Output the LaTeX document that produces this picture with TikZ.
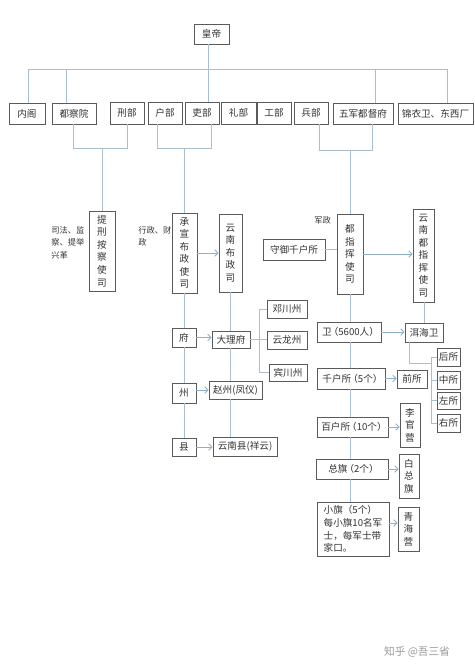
\documentclass[tikz,border=0pt]{standalone}
\usepackage{fontspec}
\setmainfont{Noto Sans CJK SC}
\usetikzlibrary{arrows.meta,calc}
\definecolor{lnc}{HTML}{A9BFD0}
\definecolor{arc}{HTML}{8FB0CC}
\definecolor{bdc}{HTML}{5A5A5A}
\definecolor{txc}{HTML}{333333}
\newcommand\lpa{\kern-2.2pt（}
\newcommand\rpa{）\kern-2.2pt}
\tikzset{
  bx/.style={draw=bdc, line width=0.6pt, inner sep=0pt, fill=white, text=txc, align=center,
    font=\fontsize{7.2}{9.4}\selectfont},
  ln/.style={draw=lnc, line width=0.7pt},
  ar/.style={draw=arc, line width=0.7pt, -{Straight Barb[length=2.5pt,width=5pt]}},
  lbl/.style={inner sep=0pt, text=txc, align=left, font=\fontsize{6.2}{9.5}\selectfont}
}
\newcommand\bx[7][]{\node[bx,#1,minimum width={(#5-#3)*0.75pt},minimum height={(#6-#4)*0.75pt}] (#2) at ({(#3+#5)/2},{(#4+#6)/2}) {#7};}
\begin{document}
\begin{tikzpicture}[x=0.75pt,y=-0.75pt]
\useasboundingbox (0,0) rectangle (474,670);
% top
\bx{hd}{194}{24}{229}{44}{皇帝}
\bx{nj}{9}{103}{45}{124}{内阁}
\bx{dcy}{52}{103}{96}{124}{都察院}
\bx{xb}{110}{102}{144}{124}{刑部}
\bx{hb}{148}{102}{182}{124}{户部}
\bx{lb}{185}{102}{219}{124}{吏部}
\bx{lib}{221}{102}{256}{124}{礼部}
\bx{gb}{257}{102}{291}{124}{工部}
\bx{bb}{294}{102}{328}{124}{兵部}
\bx{wj}{333}{103}{393}{124}{五军都督府}
\bx{jy}{398}{103}{473}{124}{锦衣卫、东西厂}
\coordinate (b1) at (28,69);
\coordinate (b2) at (66,69);
\coordinate (b3) at (208,69);
\coordinate (b4) at (375,69);
\coordinate (b5) at (447,69);
\draw[ln] (b3 |- hd.south) -- (b3 |- lb.north);
\draw[ln] (b1) -- (b5);
\draw[ln] (b1) -- (b1 |- nj.north);
\draw[ln] (b2) -- (b2 |- dcy.north);
\draw[ln] (b4) -- (b4 |- wj.north);
\draw[ln] (b5) -- (b5 |- jy.north);
% second level
\bx{tx}{89}{211}{115}{291}{提\\刑\\按\\察\\使\\司}
\bx{cx}{172}{213}{197}{293}{承\\宣\\布\\政\\使\\司}
\bx{ynb}{219}{214}{242}{292}{云\\南\\布\\政\\司}
\bx{dz}{337}{214}{363}{294}{都\\指\\挥\\使\\司}
\bx{ynd}{413}{209}{434}{302}{云\\南\\都\\指\\挥\\使\\司}
\bx{sy}{263}{239}{325}{260}{守御千户所}
% brackets
\coordinate (k1) at (73,148); \coordinate (k2) at (127,148); \coordinate (k3) at (102,148);
\draw[ln] (k1 |- dcy.south) -- (k1) -- (k2) -- (k2 |- xb.south);
\draw[ln] (k3) -- (k3 |- tx.north);
\coordinate (m1) at (157,148); \coordinate (m2) at (211,148); \coordinate (m3) at (184.5,148);
\draw[ln] (m1 |- hb.south) -- (m1) -- (m2) -- (m2 |- lb.south);
\draw[ln] (m3) -- (m3 |- cx.north);
\coordinate (n1) at (319,150); \coordinate (n2) at (372,150); \coordinate (n3) at (350,150);
\draw[ln] (n1 |- bb.south) -- (n1) -- (n2) -- (n2 |- wj.south);
\draw[ln] (n3) -- (n3 |- dz.north);
% labels
\node[lbl, anchor=north west] (l1) at (51,226) {司法、监\\察、提举\\兴革};
\node[lbl, anchor=north west] (l2) at (138,226) {行政、财\\政};
\node[lbl, anchor=north west] (l3) at (314,216) {军政};
% arrows level 2
\draw[ar] (cx.east) -- (cx.east -| ynb.west);
\draw[ar] (dz.east) -- (dz.east -| ynd.west);
\draw[ln] (sy.east) -- (sy.east -| dz.west);
% civil chain
\bx{fu}{172}{328}{196}{347}{府}
\bx{zh}{172}{383}{196}{403}{州}
\bx{xi}{172}{438}{196}{456}{县}
\bx{dl}{212}{331}{250}{348}{大理府}
\bx{zz}{209}{381}{262}{399}{赵州(凤仪)}
\bx{yx}{213}{437}{277}{456}{云南县(祥云)}
\bx{dc}{267}{300}{307}{318}{邓川州}
\bx{yl}{267}{331}{307}{349}{云龙州}
\bx{bc}{269}{364}{307}{381}{宾川州}
\draw[ln] (cx.south) -- (cx.south |- fu.north);
\draw[ln] (fu.south) -- (zh.north);
\draw[ln] (zh.south) -- (xi.north);
\coordinate (r0) at (230.5,300);
\draw[ln] (r0 |- ynb.south) -- (r0 |- dl.north);
\draw[ln] (r0 |- dl.south) -- (r0 |- zz.north);
\draw[ln] (r0 |- zz.south) -- (r0 |- yx.north);
\draw[ar] (fu.east) -- (fu.east -| dl.west);
\draw[ar] (zh.east |- zz.west) -- (zz.west);
\draw[ar] (xi.east) -- (xi.east -| yx.west);
\coordinate (j1) at (259,309);
\coordinate (j2) at (259,372.5);
\draw[ln] (dl.east) -- (dl.east -| yl.west);
\draw[ln] (j1 |- dc.west) -- (j2 |- bc.west);
\draw[ln] (j1 |- dc.west) -- (dc.west);
\draw[ln] (j2 |- bc.west) -- (bc.west);
% military chain
\bx{wei}{317}{322}{381}{342}{卫\lpa 5600人\rpa}
\bx{ehw}{405}{323}{443}{342}{洱海卫}
\bx{qh}{317}{368}{385}{389}{千户所\lpa 5个\rpa}
\bx{qs}{397}{370}{427}{388}{前所}
\bx{hs}{437}{348}{460}{366}{后所}
\bx{zs}{437}{371}{460}{389}{中所}
\bx{zos}{437}{392}{460}{409}{左所}
\bx{ys}{437}{414}{460}{432}{右所}
\bx{bh}{317}{417}{388}{437}{百户所\lpa 10个\rpa}
\bx{lg}{400}{403}{420}{447}{李\\官\\营}
\bx{zq}{316}{459}{388}{479}{总旗\lpa 2个\rpa}
\bx{bz}{399}{454}{419}{498}{白\\总\\旗}
\bx[align=left]{xq}{317}{502}{389}{556}{小旗（5个）\\每小旗10名军\\士，每军士带\\家口。}
\bx{qhy}{398}{507}{419}{551}{青\\海\\营}
\coordinate (v0) at (350,300);
\draw[ln] (v0 |- dz.south) -- (v0 |- wei.north);
\draw[ln] (v0 |- wei.south) -- (v0 |- qh.north);
\draw[ln] (v0 |- qh.south) -- (v0 |- bh.north);
\draw[ln] (v0 |- bh.south) -- (v0 |- zq.north);
\draw[ln] (v0 |- zq.south) -- (v0 |- xq.north);
\draw[ln] (ynd.south -| ehw.north) -- (ehw.north);
\draw[ar] (wei.east) -- (wei.east -| ehw.west);
\draw[ar] (qh.east) -- (qh.east -| qs.west);
\draw[ar] (bh.east) -- (bh.east -| lg.west);
\draw[ar] (zq.east) -- (zq.east -| bz.west);
\draw[ar] (xq.east |- 0,523) -- (qhy.west |- 0,523);
\coordinate (e1) at (409,363);
\coordinate (e3) at (431,363);
\draw[ln] (e1 |- ehw.south) -- (e1) -- (e3);
\coordinate (s0) at (431,300);
\draw[ln] (s0 |- hs.west) -- (s0 |- ys.west);
\draw[ln] (s0 |- hs.west) -- (hs.west);
\draw[ln] (s0 |- zs.west) -- (zs.west);
\draw[ln] (s0 |- zos.west) -- (zos.west);
\draw[ln] (s0 |- ys.west) -- (ys.west);
% watermark
\node[text=black!40, inner sep=0pt, font=\fontsize{8}{8}\selectfont] (wm) at (417,652) {知乎 @吾三省};
\end{tikzpicture}
\end{document}
